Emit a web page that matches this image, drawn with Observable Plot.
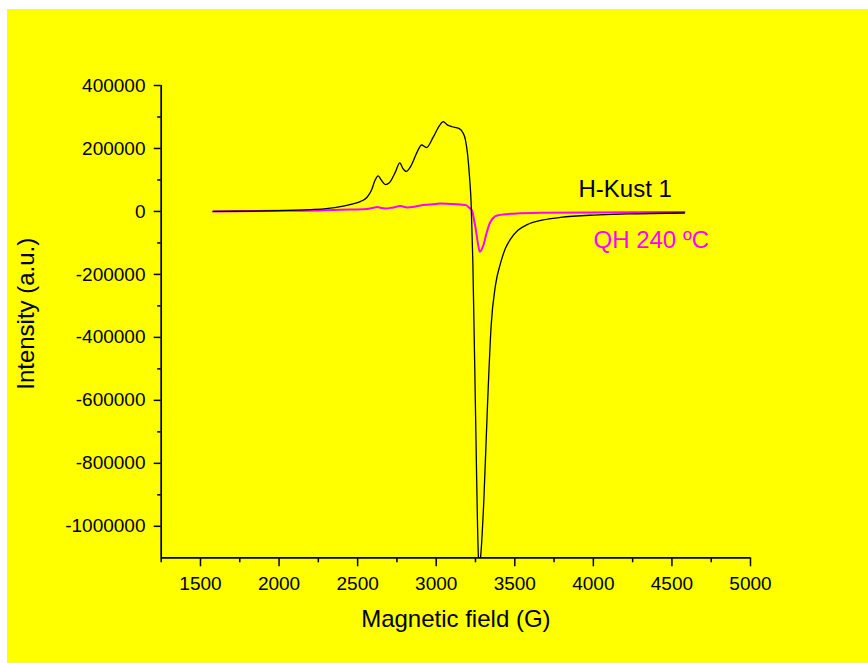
<!DOCTYPE html>
<html>
<head>
<meta charset="utf-8">
<script src="https://cdn.jsdelivr.net/npm/d3@7"></script>
<script src="https://cdn.jsdelivr.net/npm/@observablehq/plot@0.6"></script>
<style>
  html, body { margin: 0; padding: 0; background: #ffffff; }
  #wrap { position: relative; width: 868px; height: 663px; overflow: hidden; }
  #bg { position: absolute; left: 7px; top: 9px; right: 0; bottom: 0; background: #ffff00; }
  #chart { position: absolute; left: 0; top: 0; }
</style>
</head>
<body>
<div id="wrap"><div id="bg"></div><div id="chart"></div></div>
<script>
// H-Kust 1 (black) spectrum: field (G) and intensity (a.u.)
const kustField = [1580, 1800, 2000, 2200, 2300, 2400, 2470, 2520, 2560, 2590, 2610, 2631, 2650, 2677, 2700, 2740, 2768, 2790, 2809, 2840, 2880, 2907, 2938, 2980, 3020, 3045, 3070, 3100, 3144, 3170, 3185, 3200, 3212, 3222, 3233, 3250, 3269, 3275, 3282, 3303, 3325, 3350, 3377, 3409, 3440, 3473, 3520, 3579, 3680, 3791, 4003, 4216, 4580];
const kustValue = [0, 1000, 2500, 6000, 9000, 16000, 24000, 32000, 45000, 70000, 98000, 113000, 100000, 85000, 90000, 125000, 154000, 135000, 127000, 145000, 190000, 211000, 203000, 235000, 272000, 285000, 275000, 269000, 264000, 250000, 230000, 180000, 110000, 30000, -157000, -633000, -1100000, -1125000, -1100000, -919000, -633000, -360000, -235000, -165000, -118000, -88000, -60000, -42000, -27000, -19000, -11500, -8000, -5000];

// QH 240 ºC (magenta) spectrum
const qhField = [1580, 2000, 2300, 2391, 2560, 2600, 2625, 2650, 2677, 2720, 2773, 2815, 2860, 2900, 2960, 3027, 3100, 3155, 3190, 3210, 3229, 3240, 3250, 3265, 3277, 3290, 3303, 3320, 3335, 3350, 3366, 3388, 3430, 3494, 3664, 4000, 4580];
const qhValue = [0, 2000, 4000, 5500, 8000, 12000, 14000, 11000, 9500, 12000, 17000, 12700, 15000, 19000, 22000, 25000, 24000, 22000, 20000, 12000, 2000, -25000, -51000, -100000, -128000, -120000, -103000, -70000, -45000, -29000, -19000, -13000, -9500, -7000, -4000, -3000, -2000];

const seriesNames = ["H-Kust 1", "QH 240 ºC"];
const xMajorTicks = [1500, 2000, 2500, 3000, 3500, 4000, 4500, 5000];
const xMinorTicks = [1250, 1750, 2250, 2750, 3250, 3750, 4250, 4750];
const yMajorTicks = [400000, 200000, 0, -200000, -400000, -600000, -800000, -1000000];
const yMinorTicks = [300000, 100000, -100000, -300000, -500000, -700000, -900000];
const xDomain = [1250, 5000];
const yDomain = [-1100000, 400000];

const kust = kustField.map((f, i) => ({field: f, value: kustValue[i]}));
const qh = qhField.map((f, i) => ({field: f, value: qhValue[i]}));

const font = "'Liberation Sans', Arial, sans-serif";
const fmt = d => String(d);

const plot = Plot.plot({
  width: 868,
  height: 663,
  marginLeft: 160.7,
  marginRight: 118,
  marginTop: 85,
  marginBottom: 105.7,
  style: {background: "transparent", fontFamily: font, color: "#000"},
  x: {domain: xDomain},
  y: {domain: yDomain},
  marks: [
    Plot.line(qh, {x: "field", y: "value", stroke: "#ff00ff", strokeWidth: 2, curve: "monotone-x", clip: true}),
    Plot.line(kust, {x: "field", y: "value", stroke: "#000000", strokeWidth: 1.3, curve: "monotone-x", clip: true}),
    Plot.axisX(xMajorTicks, {tickSize: 9, tickPadding: 9.5, tickFormat: fmt, fontSize: 19, strokeWidth: 1.5, label: null}),
    Plot.axisX(xMinorTicks, {tickSize: 5, tickFormat: () => "", strokeWidth: 1.5, label: null}),
    Plot.axisY(yMajorTicks, {tickSize: 7, tickPadding: 8.7, tickFormat: fmt, fontSize: 19, strokeWidth: 1.5, label: null}),
    Plot.axisY(yMinorTicks, {tickSize: 3.5, tickFormat: () => "", strokeWidth: 1.5, label: null}),
    Plot.ruleY([yDomain[0]], {strokeWidth: 1.7}),
    Plot.ruleX([xDomain[0]], {strokeWidth: 1.7}),
    Plot.text(["Magnetic field (G)"], {frameAnchor: "bottom", dy: 61.7, fontSize: 24, lineAnchor: "middle", fill: "#000"}),
    Plot.text(["Intensity (a.u.)"], {frameAnchor: "left", dx: -134.7, dy: -7.9, rotate: -90, fontSize: 24, lineAnchor: "middle", textAnchor: "middle", fill: "#000"}),
    Plot.text([seriesNames[0]], {frameAnchor: "top-left", dx: 417.3, dy: 104, fontSize: 24, textAnchor: "start", lineAnchor: "middle", fill: "#000000"}),
    Plot.text([seriesNames[1]], {frameAnchor: "top-left", dx: 432.3, dy: 155.3, fontSize: 24, textAnchor: "start", lineAnchor: "middle", fill: "#ff00ff"})
  ]
});
document.getElementById("chart").appendChild(plot);
</script>
</body>
</html>
